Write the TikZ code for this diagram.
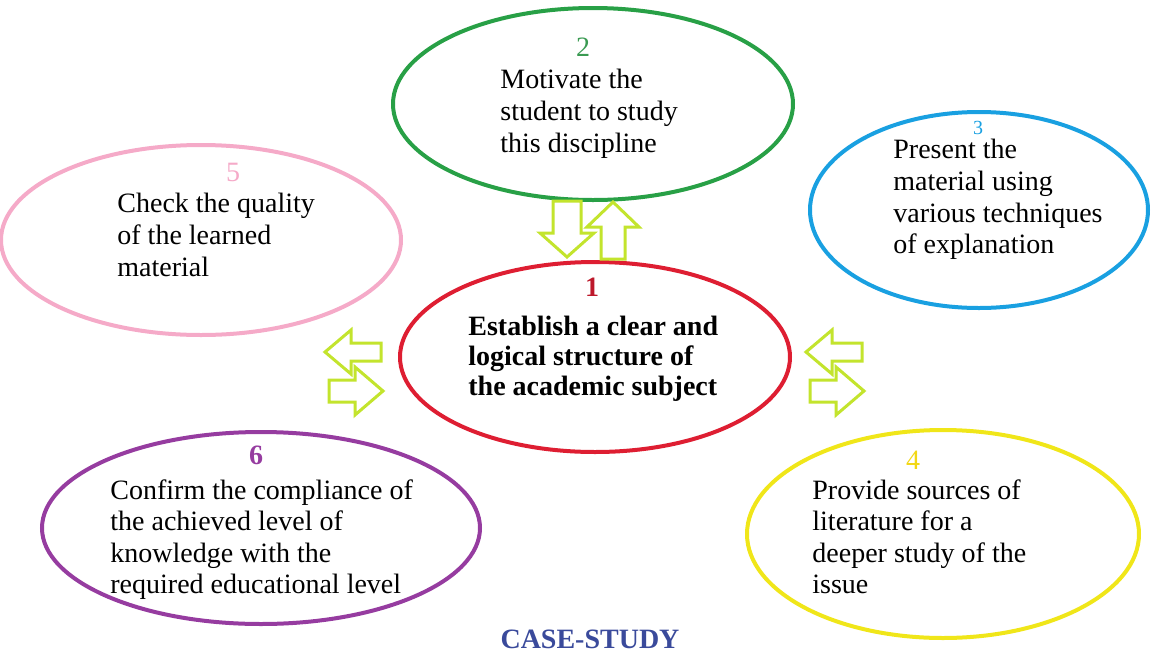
\documentclass[tikz,border=0pt]{standalone}
\usepackage{fontspec}
\setmainfont{Liberation Serif}
\definecolor{ringred}{RGB}{222,30,50}
\definecolor{ringgreen}{RGB}{40,160,70}
\definecolor{ringblue}{RGB}{25,160,225}
\definecolor{ringpink}{RGB}{245,170,200}
\definecolor{ringpurple}{RGB}{150,60,160}
\definecolor{ringyellow}{RGB}{240,230,25}
\definecolor{limegreen}{RGB}{195,228,45}
\definecolor{casenavy}{RGB}{58,74,155}

\begin{document}
\begin{tikzpicture}[x=0.5pt,y=-0.5pt,
  ring/.style={line width=2pt},
  arrowline/.style={draw=limegreen,fill=white,line width=1.5pt,line join=miter},
  txt/.style={anchor=north west,align=left,inner sep=0pt,font=\fontsize{14}{15.8}\selectfont},
  num/.style={inner sep=0pt,font=\fontsize{14}{15.8}\selectfont}]
  \useasboundingbox (0,0) rectangle (1158,654);

  % the six rings
  \draw[ring,ringgreen] (593,104) ellipse (200 and 96);
  \draw[ring,ringblue] (979,210) ellipse (169 and 98);
  \draw[ring,ringpink] (201,240) ellipse (200 and 95);
  \draw[ring,ringred] (595,357) ellipse (195 and 95);
  \draw[ring,ringpurple] (261,528) ellipse (219 and 96);
  \draw[ring,ringyellow] (943,534) ellipse (196 and 104);

  % step numbers
  \node[num,text=ringgreen!80!gray] (num2) at (583,47) {2};
  \node[num,text=ringblue,font=\fontsize{10}{12}\selectfont] (num3) at (978,128) {3};
  \node[num,text=ringpink] (num5) at (233,172) {5};
  \node[num,text=ringred!85!black,font=\fontsize{14}{15.8}\selectfont\bfseries] (num1) at (592,287) {1};
  \node[num,text=ringpurple,font=\fontsize{14}{15.8}\selectfont\bfseries] (num6) at (256,455) {6};
  \node[num,text=ringyellow!85!orange] (num4) at (913,460) {4};

  % step texts
  \node[txt] (step2) at (500,69) {Motivate the\\student to study\\this discipline};
  \node[txt] (step3) at (893,139) {Present the\\material using\\various techniques\\of explanation};
  \node[txt] (step5) at (117,193) {Check the quality\\of the learned\\material};
  \node[txt,font=\fontsize{14}{15}\selectfont\bfseries] (step1) at (468,316)
    {Establish a clear and\\logical structure of\\the academic subject};
  \node[txt] (step6) at (110,479) {Confirm the compliance of\\the achieved level of\\knowledge with the\\required educational level};
  \node[txt] (step4) at (812,479) {Provide sources of\\literature for a\\deeper study of the\\issue};

  \node[num,text=casenavy,font=\fontsize{14}{16}\selectfont\bfseries] (title) at (590,639) {CASE-STUDY};

  % arrows between ring 2 and ring 1
  \begin{scope}[shift={(567,201)},rotate=-90]
    \draw[arrowline] (0,-14) -- (32,-14) -- (32,-27) -- (56,0) -- (32,27) -- (32,14) -- (0,14) -- cycle;
  \end{scope}
  \begin{scope}[shift={(613,259)},rotate=90]
    \draw[arrowline] (0,-12) -- (32,-12) -- (32,-26) -- (57,0) -- (32,26) -- (32,12) -- (0,12) -- cycle;
  \end{scope}

  % arrows on the left of ring 1
  \begin{scope}[shift={(381,352)},rotate=180]
    \draw[arrowline] (0,-9) -- (30,-9) -- (30,-22) -- (56,0) -- (30,22) -- (30,9) -- (0,9) -- cycle;
  \end{scope}
  \begin{scope}[shift={(329,391)}]
    \draw[arrowline] (0,-11) -- (26,-11) -- (26,-24) -- (54,0) -- (26,24) -- (26,11) -- (0,11) -- cycle;
  \end{scope}

  % arrows on the right of ring 1
  \begin{scope}[shift={(862,352)},rotate=180]
    \draw[arrowline] (0,-9) -- (30,-9) -- (30,-22) -- (56,0) -- (30,22) -- (30,9) -- (0,9) -- cycle;
  \end{scope}
  \begin{scope}[shift={(810,391)}]
    \draw[arrowline] (0,-11) -- (26,-11) -- (26,-24) -- (54,0) -- (26,24) -- (26,11) -- (0,11) -- cycle;
  \end{scope}
\end{tikzpicture}
\end{document}
